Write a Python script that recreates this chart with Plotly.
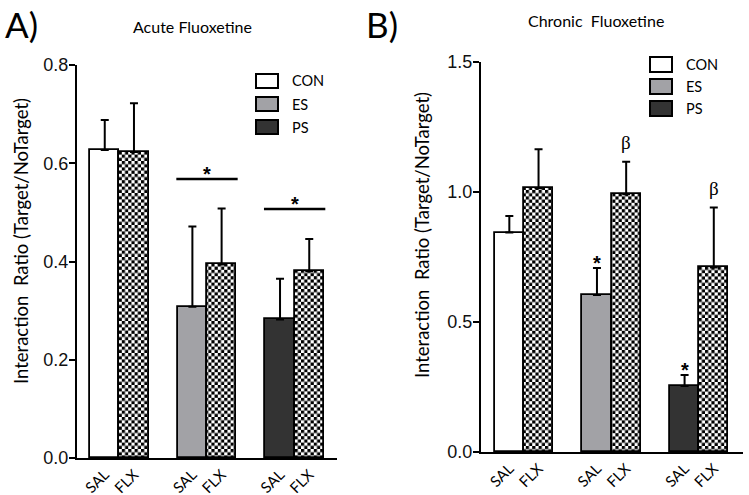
import plotly.graph_objects as go

# ---------------- data ----------------
groups = ["CON", "ES", "PS"]
group_colors = ["#ffffff", "#a2a2a6", "#333333"]
bar_pos = [0, 1, 3, 4, 6, 7]
tick_labels = ["SAL", "FLX", "SAL", "FLX", "SAL", "FLX"]
bar_group = [0, 0, 1, 1, 2, 2]
bar_is_flx = [False, True, False, True, False, True]

acute_mean = [0.627, 0.623, 0.308, 0.394, 0.282, 0.380]
acute_sem = [0.061, 0.099, 0.163, 0.114, 0.083, 0.066]
chronic_mean = [0.844, 1.014, 0.604, 0.991, 0.254, 0.710]
chronic_sem = [0.064, 0.150, 0.104, 0.125, 0.042, 0.230]

acute_yticks = [0.0, 0.2, 0.4, 0.6, 0.8]
chronic_yticks = [0.0, 0.5, 1.0, 1.5]

# significance: acute -> lines over ES and PS groups
acute_sig_groups = [1, 2]
acute_sig_y = [0.568, 0.507]
# chronic -> star over SAL bars, beta over FLX bars
chronic_star_bars = [2, 4]
chronic_beta_bars = [3, 5]

W, H = 749, 495
def px(x):
    return x / W
def py(y):
    return 1 - y / H

LAT = "Lato, 'Open Sans', sans-serif"
ARIAL = "'Liberation Sans', Arial, sans-serif"

fill_colors = [group_colors[g] for g in bar_group]
shapes_pat = ["." if f else "" for f in bar_is_flx]

fig = go.Figure()

def add_panel(mean, sem, xa, ya):
    fig.add_trace(go.Bar(
        x=bar_pos, y=mean, width=1.0,
        xaxis=xa, yaxis=ya,
        marker=dict(
            color=fill_colors,
            line=dict(color="black", width=1.8),
            pattern=dict(shape=shapes_pat, bgcolor=fill_colors,
                         fgcolor="black", size=4.5, solidity=0.5,
                         fillmode="replace"),
        ),
        error_y=dict(type="data", array=sem, arrayminus=[0] * len(sem),
                     symmetric=False, color="black", thickness=2, width=4),
        showlegend=False, hoverinfo="skip",
    ))

add_panel(acute_mean, acute_sem, "x", "y")
add_panel(chronic_mean, chronic_sem, "x2", "y2")

xcommon = dict(showline=True, linecolor="black", linewidth=2, ticks="",
               showgrid=False, zeroline=False, tickmode="array",
               tickvals=bar_pos, ticktext=tick_labels, tickangle=-45,
               tickfont=dict(family=LAT, size=15, color="black"),
               automargin=False)
ycommon = dict(showline=True, linecolor="black", linewidth=2, ticks="outside",
               ticklen=6, tickwidth=2, tickcolor="black", showgrid=False,
               zeroline=False, tickformat=".1f", ticklabelstandoff=-3,
               tickfont=dict(family=ARIAL, size=18, color="#111"),
               automargin=False)

fig.update_layout(
    width=W, height=H,
    margin=dict(l=0, r=0, t=0, b=0),
    paper_bgcolor="white", plot_bgcolor="white",
    bargap=0,
    xaxis=dict(domain=[px(77), px(337)], range=[-0.95, 7.95], anchor="y", **xcommon),
    yaxis=dict(domain=[py(458), py(65)], range=[0, 0.8], tickvals=acute_yticks,
               anchor="x", **ycommon),
    xaxis2=dict(domain=[px(481), px(743)], range=[-0.97, 8.0], anchor="y2", **xcommon),
    yaxis2=dict(domain=[py(452), py(62)], range=[0, 1.5], tickvals=chronic_yticks,
                anchor="x2", **ycommon),
)

annotations = []
shapes = []

# panel letters and titles
annotations.append(dict(text="A)", x=px(3), y=py(24), xref="paper", yref="paper",
                        xanchor="left", yanchor="middle", showarrow=False,
                        font=dict(family=LAT, size=35, color="black")))
annotations.append(dict(text="B)", x=px(364), y=py(24), xref="paper", yref="paper",
                        xanchor="left", yanchor="middle", showarrow=False,
                        font=dict(family=LAT, size=35, color="black")))
annotations.append(dict(text="Acute Fluoxetine", x=px(192), y=py(26), xref="paper",
                        yref="paper", xanchor="center", yanchor="middle",
                        showarrow=False, font=dict(family=LAT, size=16, color="black")))
annotations.append(dict(text="Chronic  Fluoxetine", x=px(596), y=py(20), xref="paper",
                        yref="paper", xanchor="center", yanchor="middle",
                        showarrow=False, font=dict(family=LAT, size=16, color="black")))

# y-axis titles
for xc, yc in [(21, 241), (422, 235)]:
    annotations.append(dict(text="Interaction  Ratio (Target/NoTarget)", x=px(xc), y=py(yc),
                            xref="paper", yref="paper", textangle=-90,
                            xanchor="center", yanchor="middle", showarrow=False,
                            font=dict(family=LAT, size=18.5, color="black")))

# legends
for (bx, tx, ys, bh) in [(256, 290, [81, 104, 127], 14), (650, 684, [64.5, 86.5, 108.5], 15)]:
    for g, yc in enumerate(ys):
        shapes.append(dict(type="rect", xref="paper", yref="paper",
                           x0=px(bx), x1=px(bx + 22), y0=py(yc + bh / 2), y1=py(yc - bh / 2),
                           line=dict(color="black", width=2), fillcolor=group_colors[g]))
        annotations.append(dict(text=groups[g], x=px(tx), y=py(yc), xref="paper",
                                yref="paper", xanchor="left", yanchor="middle",
                                showarrow=False,
                                font=dict(family=LAT, size=14.5, color="black")))

# acute significance lines
for g, yv in zip(acute_sig_groups, acute_sig_y):
    c = (bar_pos[2 * g] + bar_pos[2 * g + 1]) / 2
    shapes.append(dict(type="line", xref="x", yref="y", x0=c - 1.05, x1=c + 1.05,
                       y0=yv, y1=yv, line=dict(color="black", width=2.5)))
    annotations.append(dict(text="<b>*</b>", x=c, y=yv, xref="x", yref="y",
                            xanchor="center", yanchor="middle", yshift=5,
                            showarrow=False,
                            font=dict(family=ARIAL, size=20, color="black")))

# chronic markers
for i in chronic_star_bars:
    annotations.append(dict(text="<b>*</b>", x=bar_pos[i], y=chronic_mean[i] + chronic_sem[i],
                            xref="x2", yref="y2", xanchor="center", yanchor="middle",
                            yshift=5, showarrow=False,
                            font=dict(family=ARIAL, size=20, color="black")))
for i in chronic_beta_bars:
    annotations.append(dict(text="β", x=bar_pos[i], y=chronic_mean[i] + chronic_sem[i],
                            xref="x2", yref="y2", xanchor="center", yanchor="middle",
                            yshift=19, showarrow=False,
                            font=dict(family="'Liberation Serif', serif", size=19,
                                      color="black")))

fig.update_layout(annotations=annotations, shapes=shapes)

post_js = """
document.body.style.margin = '0';
document.body.style.padding = '0';
var gd = document.getElementById('{plot_id}');
var ns = 'http://www.w3.org/2000/svg';
function checkerize(){
  var pats = gd.querySelectorAll('pattern');
  pats.forEach(function(p){
    if (p.getAttribute('data-chk')) return;
    var r = p.querySelector('rect');
    var bg = r ? r.getAttribute('fill') : '#ffffff';
    var a = 3.2;
    while (p.firstChild) p.removeChild(p.firstChild);
    p.setAttribute('width', 2*a); p.setAttribute('height', 2*a);
    p.removeAttribute('patternTransform');
    var b = document.createElementNS(ns, 'rect');
    b.setAttribute('width', 2*a); b.setAttribute('height', 2*a); b.setAttribute('fill', bg);
    p.appendChild(b);
    [[0,0],[a,a]].forEach(function(o){
      var s = document.createElementNS(ns, 'rect');
      s.setAttribute('x', o[0]); s.setAttribute('y', o[1]);
      s.setAttribute('width', a); s.setAttribute('height', a);
      s.setAttribute('fill', '#000');
      p.appendChild(s);
    });
    p.setAttribute('data-chk', '1');
  });
}
checkerize();
"""

fig.write_html("out.html", post_script=post_js, config={"displayModeBar": False})
